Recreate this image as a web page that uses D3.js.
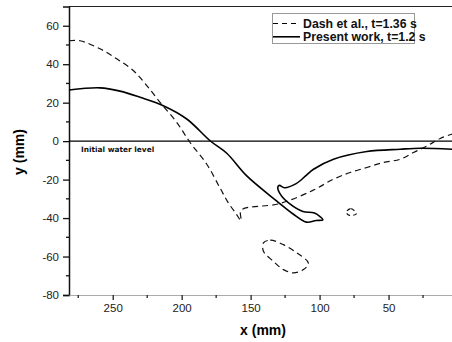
<!DOCTYPE html>
<html>
<head>
<meta charset="utf-8">
<script src="https://cdn.jsdelivr.net/npm/d3@7"></script>
<style>
  body { margin: 0; background: #fff; }
  svg { display: block; font-family: "Liberation Sans", Arial, sans-serif; }
</style>
</head>
<body>
<div id="chart"></div>
<script>
// free surface profiles, x and y in mm (points in drawing order)
const presentX = [281.7, 259.2, 244.7, 230.2, 213.3, 196.3, 179.4, 167.3, 152.8, 131, 119.2, 109.7, 102.5, 97.6,
  103.7, 112.1, 121.8, 127.9, 130.3, 129.1, 125.5, 117, 109.7, 104.4, 89.9, 65.7, 41.5, 27, 3.8];
const presentY = [26.6, 27.7, 26.0, 22.8, 18.4, 11.5, 0.2, -6.3, -18.1, -31.2, -37.9, -42.1, -41.3, -40.9,
  -37.4, -36.6, -32.5, -28.2, -23.9, -23.0, -24.2, -22.1, -17.8, -14.6, -9.4, -5.4, -4.2, -3.7, -4.2];

const dashX = [281.7, 273.7, 259.2, 247.1, 235.1, 225.3, 215.7, 203.6, 193.9, 181.8, 172.1, 166.5, 160.5, 156.9,
  156.9, 129.1, 104.9, 90, 77.8, 65.7, 53.6, 41.5, 31.9, 22.1, 12.5, 3.8];
const dashY = [52.2, 52.2, 48.0, 42.8, 36.7, 28.9, 20.2, 9.8, -0.7, -12.0, -24.5, -31.7, -37.8, -41.3,
  -36.0, -32.5, -25.6, -19.8, -16.3, -13.7, -11.1, -9.4, -5.9, -2.5, 1.4, 3.7];

// detached droplets (Dash et al.)
const blobAX = [140.7, 135.8, 126.2, 116.5, 108.1, 111.7, 118.9, 126.2, 133.5, 140.7];
const blobAY = [-52.9, -51.5, -53.8, -58.1, -63.4, -66.8, -68.5, -66.8, -62.5, -57.3];
const blobBX = [80.7, 77.1, 73.4, 78.3];
const blobBY = [-36.9, -35.1, -37.8, -38.6];

const xTicks = [250, 200, 150, 100, 50];
const xMinor = [275, 225, 175, 125, 75, 25];
const yTicks = [60, 40, 20, 0, -20, -40, -60, -80];
const yMinor = [50, 30, 10, -10, -30, -50, -70];

const seriesNames = ["Dash et al., t=1.36 s", "Present work, t=1.2 s"];

const width = 452, height = 342;
const x = d3.scaleLinear().domain([281.7, 0]).range([69, 457.5]);
const y = d3.scaleLinear().domain([-80, 70]).range([295, 6.5]);

const svg = d3.select("#chart").append("svg")
  .attr("width", width)
  .attr("height", height);

const zip = (xs, ys) => xs.map((v, i) => [v, ys[i]]);

// frame (top edge)
svg.append("line")
  .attr("x1", x(281.7)).attr("x2", x(0))
  .attr("y1", y(70)).attr("y2", y(70))
  .attr("stroke", "#222").attr("stroke-width", 1.2);

// y axis
const yAxis = svg.append("g")
  .attr("transform", `translate(${x(281.7)},0)`)
  .call(d3.axisLeft(y).tickValues(yTicks).tickSize(6).tickPadding(4).tickFormat(d => String(d)));
yAxis.select(".domain").attr("stroke", "#111").attr("stroke-width", 1.5);
yAxis.selectAll(".tick line").attr("stroke", "#111").attr("stroke-width", 1.3);
yAxis.selectAll("text").attr("font-size", 11.5).attr("fill", "#222")
  .attr("font-family", "Liberation Sans, Arial, sans-serif");
yAxis.selectAll(".minor").data(yMinor).enter().append("line")
  .attr("x1", -3).attr("x2", 0)
  .attr("y1", d => y(d)).attr("y2", d => y(d))
  .attr("stroke", "#111").attr("stroke-width", 1.3);

// x axis
const xAxis = svg.append("g")
  .attr("transform", `translate(0,${y(-80)})`)
  .call(d3.axisBottom(x).tickValues(xTicks).tickSize(5).tickPadding(4).tickSizeOuter(0));
xAxis.select(".domain").attr("stroke", "#aaa").attr("stroke-width", 1.2);
xAxis.selectAll(".tick line").attr("stroke", "#222").attr("stroke-width", 1.3);
xAxis.selectAll("text").attr("font-size", 11.5).attr("fill", "#222")
  .attr("font-family", "Liberation Sans, Arial, sans-serif");
xAxis.selectAll(".minor").data(xMinor).enter().append("line")
  .attr("x1", d => x(d)).attr("x2", d => x(d))
  .attr("y1", 0).attr("y2", 3)
  .attr("stroke", "#222").attr("stroke-width", 1.3);

// initial water level
svg.append("line")
  .attr("x1", x(281.7)).attr("x2", x(0))
  .attr("y1", y(0)).attr("y2", y(0))
  .attr("stroke", "#000").attr("stroke-width", 1.3);
svg.append("text")
  .attr("x", 81).attr("y", y(0) + 10.5)
  .attr("font-family", "DejaVu Sans, Verdana, sans-serif")
  .attr("font-size", 7.4).attr("font-weight", "bold").attr("fill", "#111")
  .text("Initial water level");

// curves
const line = d3.line().x(d => x(d[0])).y(d => y(d[1])).curve(d3.curveCatmullRom.alpha(0.5));
const loop = d3.line().x(d => x(d[0])).y(d => y(d[1])).curve(d3.curveCatmullRomClosed.alpha(0.5));

svg.append("path")
  .attr("d", line(zip(dashX, dashY)))
  .attr("fill", "none").attr("stroke", "#111").attr("stroke-width", 1.2)
  .attr("stroke-dasharray", "6,4");
svg.append("path")
  .attr("d", loop(zip(blobAX, blobAY)))
  .attr("fill", "none").attr("stroke", "#111").attr("stroke-width", 1.2)
  .attr("stroke-dasharray", "6,4");
svg.append("path")
  .attr("d", loop(zip(blobBX, blobBY)))
  .attr("fill", "none").attr("stroke", "#111").attr("stroke-width", 1.2)
  .attr("stroke-dasharray", "4,3");

svg.append("path")
  .attr("d", line(zip(presentX, presentY)))
  .attr("fill", "none").attr("stroke", "#000").attr("stroke-width", 1.6);

// legend
const legend = svg.append("g");
legend.append("rect")
  .attr("x", 272.5).attr("y", 13.5).attr("width", 142).attr("height", 30)
  .attr("fill", "#fff").attr("stroke", "#999").attr("stroke-width", 1);
seriesNames.forEach((name, i) => {
  const ly = 23.5 + i * 13.3;
  legend.append("line")
    .attr("x1", 273).attr("x2", 300).attr("y1", ly).attr("y2", ly)
    .attr("stroke", "#000").attr("stroke-width", i === 0 ? 1.2 : 1.6)
    .attr("stroke-dasharray", i === 0 ? "5,4" : null);
  legend.append("text")
    .attr("x", 303).attr("y", ly + 4.3)
    .attr("font-size", 12.3).attr("font-weight", "bold").attr("fill", "#111")
    .text(name);
});

// axis titles
svg.append("text")
  .attr("x", 263).attr("y", 335)
  .attr("text-anchor", "middle")
  .attr("font-size", 14).attr("font-weight", "bold")
  .text("x (mm)");
svg.append("text")
  .attr("transform", "translate(24,152) rotate(-90)")
  .attr("text-anchor", "middle")
  .attr("font-size", 14).attr("font-weight", "bold")
  .text("y (mm)");
</script>
</body>
</html>
